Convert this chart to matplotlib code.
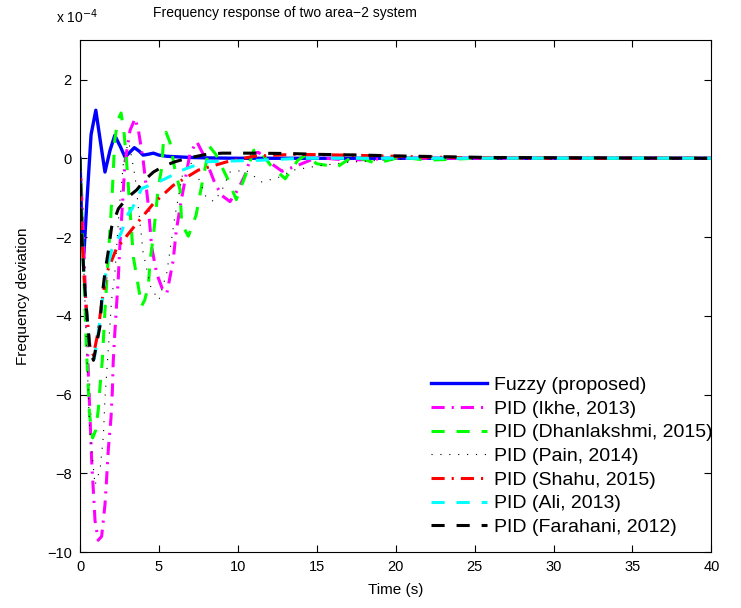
import numpy as np
import matplotlib
matplotlib.use("Agg")
import matplotlib.pyplot as plt

plt.rcParams["font.family"] = ["Liberation Sans", "DejaVu Sans"]

# values (y in units of 1e-4)
t_fuzzy = [0, 0.1, 0.25, 0.45, 0.7, 1.0, 1.3, 1.58, 1.9, 2.2, 2.55, 2.85, 3.15, 3.44,
           3.75, 4.0, 4.3, 4.65, 5.0, 5.5, 6.0, 7.0, 8.0, 10, 15, 20, 40]
y_fuzzy = [0, -1.6, -2.4, -1.0, 0.6, 1.22, 0.4, -0.35, 0.2, 0.58, 0.3, 0.03, 0.15, 0.27,
           0.18, 0.08, 0.1, 0.13, 0.08, 0.05, 0.04, 0.02, 0.01, 0, 0, 0, 0]

t_ikhe = [0, 0.2, 0.35, 0.53, 0.74, 0.95, 1.15, 1.37, 1.58, 1.69, 1.8, 1.96, 2.05, 2.1, 2.2,
          2.43, 2.53, 2.64, 2.75, 2.85, 3.17, 3.49, 3.7, 4.0, 4.3, 4.54, 4.86, 5.2, 5.5, 5.9,
          6.1, 6.4, 6.65, 6.97, 7.4, 7.9, 8.55, 9.0, 9.5, 10.0, 10.45, 10.9, 11.3, 12.0, 12.8,
          13.8, 15, 17, 20, 25, 40]
y_ikhe = [0, -1.8, -3.5, -5.5, -7.7, -9.2, -9.7, -9.6, -8.8, -8.1, -7.35, -6.6, -5.9, -5.2, -4.46,
          -3.0, -2.17, -1.49, -0.77, -0.09, 0.71, 1.01, 0.71, -0.05, -1.1, -2.26, -2.93, -3.3, -3.43, -2.6,
          -1.83, -1.1, -0.56, 0.12, 0.42, 0.03, -0.64, -0.95, -1.1, -0.8, -0.43, 0.12, 0.15, -0.1, -0.33,
          -0.18, 0.02, -0.05, 0.0, 0, 0]

t_dhan = [0, 0.2, 0.4, 0.6, 0.8, 1.0, 1.16, 1.27, 1.41, 1.58, 1.69, 1.8, 1.93, 2.05, 2.2, 2.4,
          2.6, 2.8, 2.96, 3.2, 3.38, 3.7, 3.9, 4.1, 4.33, 4.44, 4.65, 4.96, 5.17, 5.28, 5.45,
          5.7, 6.0, 6.34, 6.44, 6.86, 7.35, 7.8, 8.2, 8.6, 9.4, 9.9, 10.45, 11.0, 11.3, 12.15,
          13.0, 13.8, 14.3, 15.0, 16.3, 17.3, 18.8, 20.3, 22, 25, 40]
y_dhan = [0, -2.5, -4.8, -6.5, -7.1, -6.9, -6.37, -5.78, -5.14, -3.87, -3.15, -2.43, -1.6, -0.81, 0.46, 0.97,
          1.15, 0.6, -0.14, -1.5, -2.51, -3.27, -3.75, -3.6, -3.23, -2.6, -1.96, -0.73, -0.26, 0.41, 0.66,
          0.4, -0.26, -0.81, -1.66, -1.98, -1.45, -0.5, 0.3, 0.1, -0.56, -1.05, -0.47, 0.2, 0.25, -0.22,
          -0.52, -0.05, 0.08, -0.14, -0.22, 0.05, -0.13, 0.03, -0.05, 0, 0]

t_pain = [0, 0.3, 0.6, 0.95, 1.27, 1.48, 1.58, 1.8, 2.0, 2.22, 2.5, 2.8, 3.1, 3.5, 4.0, 4.5,
          5.0, 5.5, 6.0, 6.5, 7.0, 7.5, 8.0, 8.5, 9.0, 9.5, 10.5, 11.5, 12.5, 13.5, 15, 17,
          19, 22, 26, 30, 40]
y_pain = [0, -3.5, -6.8, -8.3, -7.9, -7.05, -6.1, -4.8, -3.6, -2.85, -1.2, 0.1, 0.4, -0.5, -2.4, -3.3,
          -3.6, -2.9, -1.5, -0.4, -0.1, -0.5, -1.0, -1.1, -0.8, -0.35, -0.3, -0.6, -0.5, -0.3, -0.2, -0.1,
          -0.05, 0, 0, 0, 0]

t_shahu = [0, 0.1, 0.25, 0.42, 0.63, 0.85, 1.1, 1.4, 1.7, 2.3, 3.5, 4.65, 5.9, 7.5, 9.3, 11,
           13.5, 17, 22, 27, 40]
y_shahu = [0, -1.8, -3.0, -3.9, -4.8, -5.0, -4.5, -3.6, -2.9, -2.3, -1.7, -1.15, -0.69, -0.3, -0.09, 0.05,
           0.1, 0.08, 0.03, 0, 0]

t_ali = [0, 0.1, 0.25, 0.42, 0.63, 0.9, 1.1, 1.3, 1.6, 2.0, 2.6, 3.06, 3.3, 3.9, 5.3, 6.55,
         7.9, 9.5, 11.4, 14, 40]
y_ali = [0, -1.8, -3.0, -3.9, -4.9, -5.1, -4.6, -4.0, -3.0, -2.34, -1.9, -1.4, -1.28, -0.77, -0.54, -0.29,
         -0.09, -0.07, -0.05, 0, 0]

t_fara = [0, 0.1, 0.25, 0.42, 0.63, 0.85, 1.06, 1.27, 1.37, 1.58, 1.8, 2.0, 2.43, 3.0, 3.6, 4.1,
          4.65, 5.3, 6.0, 6.8, 8, 9, 11, 13.3, 15, 18, 20, 23, 26, 40]
y_fara = [0, -1.8, -3.0, -3.9, -4.9, -5.13, -4.7, -4.25, -3.6, -2.89, -2.34, -1.75, -1.28, -1.0, -0.8, -0.55,
          -0.35, -0.2, -0.09, 0.0, 0.1, 0.13, 0.13, 0.12, 0.1, 0.08, 0.06, 0.04, 0.02, 0]

labels = ["Fuzzy (proposed)", "PID (Ikhe, 2013)", "PID (Dhanlakshmi, 2015)", "PID (Pain, 2014)",
          "PID (Shahu, 2015)", "PID (Ali, 2013)", "PID (Farahani, 2012)"]

fig = plt.figure(figsize=(7.41, 6.08), dpi=100)
ax = fig.add_axes([0.108, 0.092, 0.852, 0.842])

lw = 2.2
dashed = (0, (4.3, 3.9))
dashdot = (0, (4.3, 2.3, 0.7, 2.3))

# Curves
ax.plot(t_fuzzy, y_fuzzy, color="#0000ff", linestyle="-", linewidth=2.4, label=labels[0])
ax.plot(t_ikhe, y_ikhe, color="#ff00ff", linestyle=dashdot, linewidth=lw, label=labels[1])
ax.plot(t_dhan, y_dhan, color="#00ff00", linestyle=dashed, linewidth=lw, label=labels[2])
ax.plot(t_pain, y_pain, color="black", linestyle=(0, (1, 7)), linewidth=0.8, label=labels[3])
ax.plot(t_shahu, y_shahu, color="#ff0000", linestyle=dashdot, linewidth=lw, label=labels[4])
ax.plot(t_ali, y_ali, color="#00ffff", linestyle=dashed, linewidth=lw, label=labels[5])
ax.plot(t_fara, y_fara, color="black", linestyle=dashed, linewidth=lw, label=labels[6])

# Axis limits & ticks
ax.set_xlim(0, 40)
ax.set_ylim(-10, 3)
ax.set_xticks(np.arange(0, 41, 5))
ax.set_yticks(np.arange(-10, 3, 2))
ax.tick_params(direction="in", top=True, right=True, labelsize=10.5, length=5, pad=6)

# Labels
ax.set_xlabel("Time (s)", fontsize=11, labelpad=6)
ax.set_ylabel("Frequency deviation", fontsize=11, labelpad=12)
fig.text(285 / 741, 1 - 13 / 608, "Frequency response of two area\u22122 system",
         fontsize=10, ha="center", va="center")
fig.text(56 / 741, 1 - 23 / 608, "x 10$^{-4}$", fontsize=10, ha="left", va="baseline")

# Legend
ax.legend(loc="lower right", bbox_to_anchor=(1.011, 0.02), frameon=False, fontsize=14,
          handlelength=2.9, labelspacing=0.31, borderaxespad=0.0, borderpad=0.3,
          handletextpad=0.35)

fig.savefig("out.png", dpi=100)
